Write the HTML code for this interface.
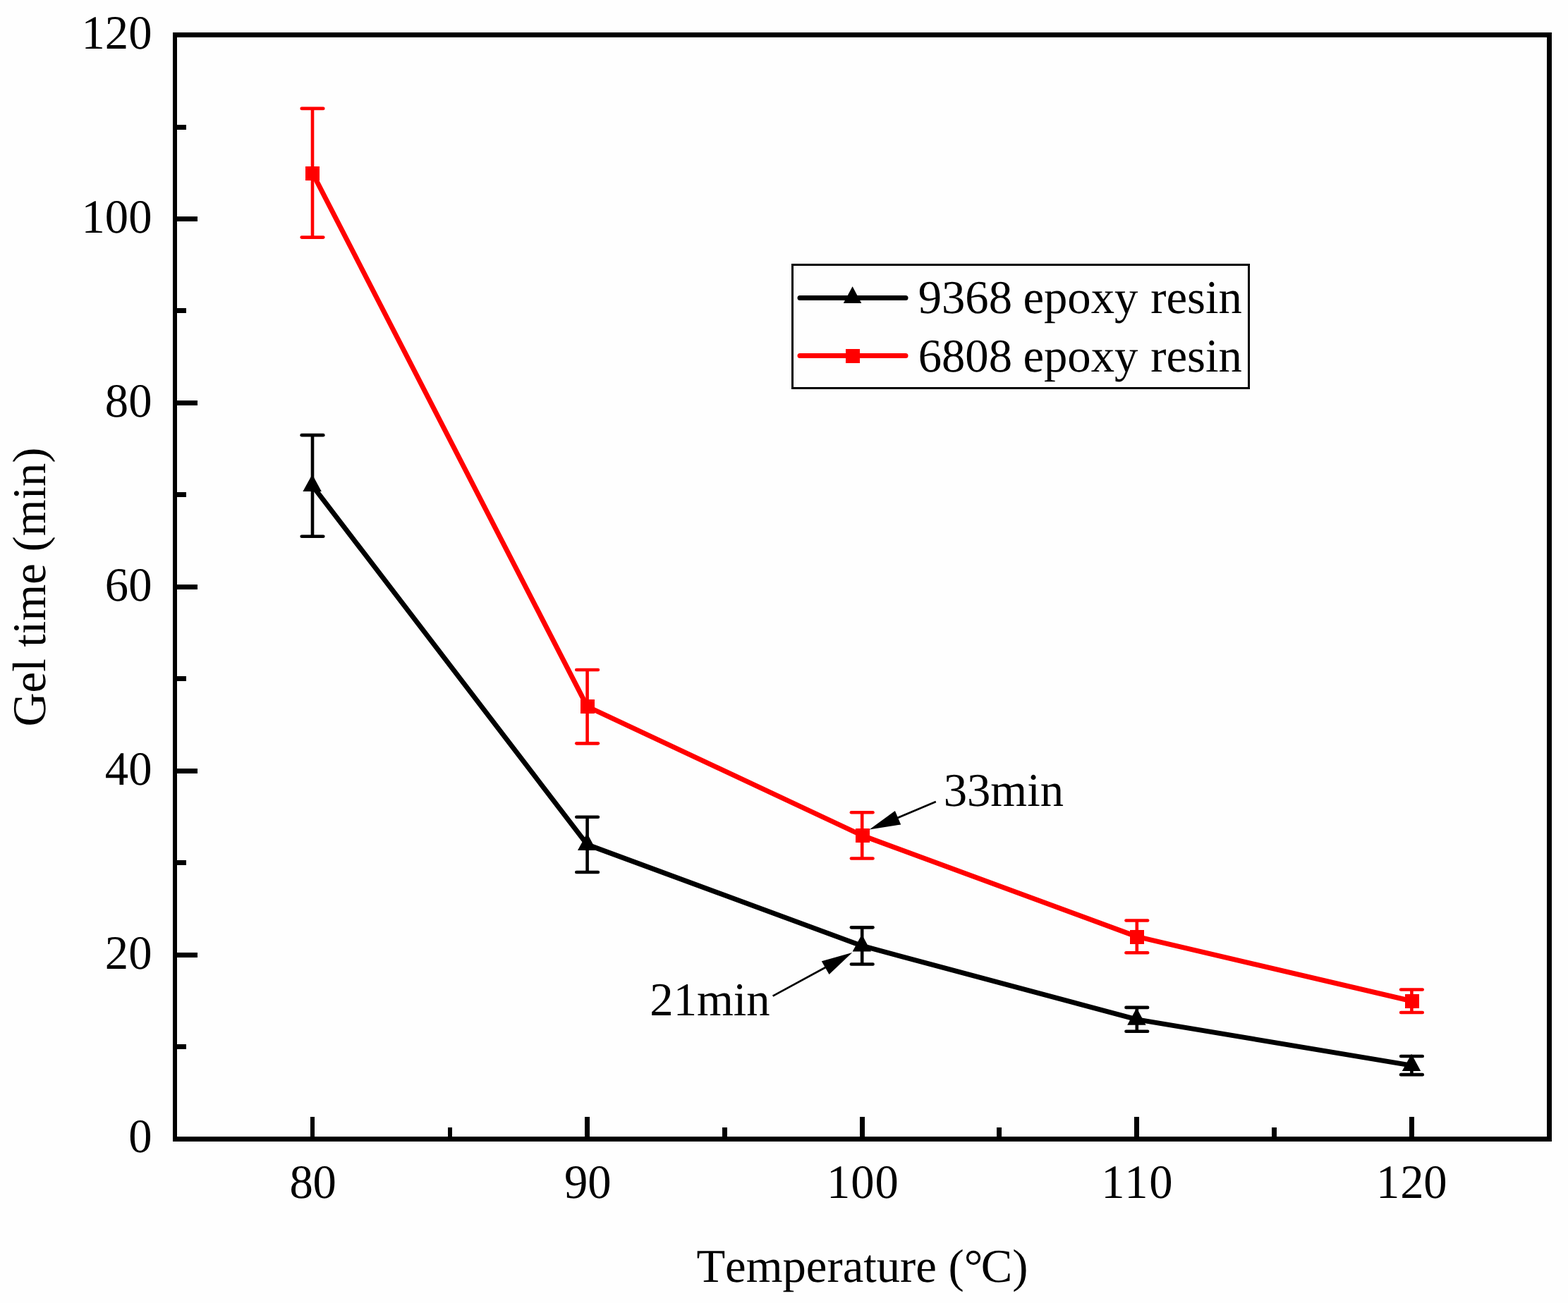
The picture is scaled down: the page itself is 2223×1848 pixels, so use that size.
<!DOCTYPE html>
<html lang="en"><head><meta charset="utf-8"><title>Gel time vs temperature</title>
<style>
html,body{margin:0;padding:0;background:#fefefe;}
body{width:2223px;height:1848px;overflow:hidden;}
svg{display:block;}
text{font-family:"Liberation Serif","Times New Roman",serif;font-size:66.67px;fill:#000;text-rendering:geometricPrecision;font-kerning:none;font-variant-ligatures:none;}
</style></head><body>
<svg width="2223" height="1848" viewBox="0 0 2223 1848">
<rect x="0" y="0" width="2223" height="1848" fill="#fefefe"/>
<g stroke="#000" fill="#000">
<polyline points="443.00,688.95 832.60,1197.90 1222.20,1341.45 1611.80,1445.85 2001.40,1511.10" fill="none" stroke-width="7" stroke-linejoin="round" stroke-linecap="butt"/>
<line x1="443.00" y1="617.17" x2="443.00" y2="760.73" stroke-width="4.6"/>
<line x1="427.70" y1="617.17" x2="458.30" y2="617.17" stroke-width="4.6" stroke-linecap="round"/>
<line x1="427.70" y1="760.73" x2="458.30" y2="760.73" stroke-width="4.6" stroke-linecap="round"/>
<polygon points="442.70,672.65 429.40,696.95 455.80,696.95" stroke="none"/>
<line x1="832.60" y1="1158.75" x2="832.60" y2="1237.05" stroke-width="4.6"/>
<line x1="817.30" y1="1158.75" x2="847.90" y2="1158.75" stroke-width="4.6" stroke-linecap="round"/>
<line x1="817.30" y1="1237.05" x2="847.90" y2="1237.05" stroke-width="4.6" stroke-linecap="round"/>
<polygon points="832.30,1181.60 819.00,1205.90 845.40,1205.90" stroke="none"/>
<line x1="1222.20" y1="1315.35" x2="1222.20" y2="1367.55" stroke-width="4.6"/>
<line x1="1206.90" y1="1315.35" x2="1237.50" y2="1315.35" stroke-width="4.6" stroke-linecap="round"/>
<line x1="1206.90" y1="1367.55" x2="1237.50" y2="1367.55" stroke-width="4.6" stroke-linecap="round"/>
<polygon points="1221.90,1325.15 1208.60,1349.45 1235.00,1349.45" stroke="none"/>
<line x1="1611.80" y1="1428.88" x2="1611.80" y2="1462.82" stroke-width="4.6"/>
<line x1="1596.50" y1="1428.88" x2="1627.10" y2="1428.88" stroke-width="4.6" stroke-linecap="round"/>
<line x1="1596.50" y1="1462.82" x2="1627.10" y2="1462.82" stroke-width="4.6" stroke-linecap="round"/>
<polygon points="1611.50,1429.55 1598.20,1453.85 1624.60,1453.85" stroke="none"/>
<line x1="2001.40" y1="1498.05" x2="2001.40" y2="1524.15" stroke-width="4.6"/>
<line x1="1986.10" y1="1498.05" x2="2016.70" y2="1498.05" stroke-width="4.6" stroke-linecap="round"/>
<line x1="1986.10" y1="1524.15" x2="2016.70" y2="1524.15" stroke-width="4.6" stroke-linecap="round"/>
<polygon points="2001.10,1494.80 1987.80,1519.10 2014.20,1519.10" stroke="none"/>
</g>
<g stroke="#ff0000" fill="#ff0000">
<polyline points="443.00,245.25 832.60,1002.15 1222.20,1184.85 1611.80,1328.40 2001.40,1419.75" fill="none" stroke-width="7" stroke-linejoin="round" stroke-linecap="butt"/>
<line x1="443.00" y1="153.90" x2="443.00" y2="336.60" stroke-width="4.6"/>
<line x1="427.70" y1="153.90" x2="458.30" y2="153.90" stroke-width="4.6" stroke-linecap="round"/>
<line x1="427.70" y1="336.60" x2="458.30" y2="336.60" stroke-width="4.6" stroke-linecap="round"/>
<rect x="433" y="236" width="20" height="20" stroke="none"/>
<line x1="832.60" y1="949.95" x2="832.60" y2="1054.35" stroke-width="4.6"/>
<line x1="817.30" y1="949.95" x2="847.90" y2="949.95" stroke-width="4.6" stroke-linecap="round"/>
<line x1="817.30" y1="1054.35" x2="847.90" y2="1054.35" stroke-width="4.6" stroke-linecap="round"/>
<rect x="823" y="992" width="20" height="20" stroke="none"/>
<line x1="1222.20" y1="1152.22" x2="1222.20" y2="1217.47" stroke-width="4.6"/>
<line x1="1206.90" y1="1152.22" x2="1237.50" y2="1152.22" stroke-width="4.6" stroke-linecap="round"/>
<line x1="1206.90" y1="1217.47" x2="1237.50" y2="1217.47" stroke-width="4.6" stroke-linecap="round"/>
<rect x="1213" y="1175" width="20" height="20" stroke="none"/>
<line x1="1611.80" y1="1305.56" x2="1611.80" y2="1351.24" stroke-width="4.6"/>
<line x1="1596.50" y1="1305.56" x2="1627.10" y2="1305.56" stroke-width="4.6" stroke-linecap="round"/>
<line x1="1596.50" y1="1351.24" x2="1627.10" y2="1351.24" stroke-width="4.6" stroke-linecap="round"/>
<rect x="1602" y="1319" width="20" height="20" stroke="none"/>
<line x1="2001.40" y1="1403.44" x2="2001.40" y2="1436.06" stroke-width="4.6"/>
<line x1="1986.10" y1="1403.44" x2="2016.70" y2="1403.44" stroke-width="4.6" stroke-linecap="round"/>
<line x1="1986.10" y1="1436.06" x2="2016.70" y2="1436.06" stroke-width="4.6" stroke-linecap="round"/>
<rect x="1992" y="1410" width="20" height="20" stroke="none"/>
</g>
<g fill="#000" stroke="none">
<rect x="245" y="46" width="1955" height="7"/>
<rect x="245" y="1612" width="1955" height="7"/>
<rect x="245" y="46" width="6" height="1573"/>
<rect x="2193" y="46" width="7" height="1573"/>
<rect x="248" y="1481" width="16" height="7"/>
<rect x="248" y="1351" width="32" height="7"/>
<rect x="248" y="1220" width="16" height="7"/>
<rect x="248" y="1090" width="32" height="7"/>
<rect x="248" y="959" width="16" height="7"/>
<rect x="248" y="829" width="32" height="7"/>
<rect x="248" y="698" width="16" height="7"/>
<rect x="248" y="568" width="32" height="7"/>
<rect x="248" y="437" width="16" height="7"/>
<rect x="248" y="307" width="32" height="7"/>
<rect x="248" y="177" width="16" height="7"/>
<rect x="440" y="1584" width="6" height="31"/>
<rect x="635" y="1599" width="6" height="16"/>
<rect x="829" y="1584" width="7" height="31"/>
<rect x="1024" y="1599" width="7" height="16"/>
<rect x="1219" y="1584" width="7" height="31"/>
<rect x="1413" y="1599" width="7" height="16"/>
<rect x="1608" y="1584" width="7" height="31"/>
<rect x="1803" y="1599" width="7" height="16"/>
<rect x="1998" y="1584" width="7" height="31"/>
</g>
<g text-anchor="end">
<text x="215.5" y="0" transform="translate(0 1634.1) scale(1 1.018)">0</text>
<text x="215.5" y="0" transform="translate(0 1374.1) scale(1 1.018)">20</text>
<text x="215.5" y="0" transform="translate(0 1113.1) scale(1 1.018)">40</text>
<text x="215.5" y="0" transform="translate(0 852.1) scale(1 1.018)">60</text>
<text x="215.5" y="0" transform="translate(0 591.1) scale(1 1.018)">80</text>
<text x="215.5" y="0" transform="translate(0 330.1) scale(1 1.018)">100</text>
<text x="215.5" y="0" transform="translate(0 69.0) scale(1 1.018)">120</text>
</g>
<text x="410.4 443.5" y="0" transform="translate(0 1699.1) scale(1 1.018)">80</text>
<text x="800 833.2" y="0" transform="translate(0 1699.1) scale(1 1.018)">90</text>
<text x="1172.1 1206.3 1240.5" y="0" transform="translate(0 1699.1) scale(1 1.018)">100</text>
<text x="1561.2 1594.3 1629.2" y="0" transform="translate(0 1699.1) scale(1 1.018)">110</text>
<text x="1951.1 1985.2 2018.3" y="0" transform="translate(0 1699.1) scale(1 1.018)">120</text>
<text x="987.4" y="1818.2">Temperature (°<tspan dx="-2.7">C)</tspan></text>
<text transform="translate(64 832.5) rotate(-90)" text-anchor="middle">Gel time (min)</text>
<rect x="1123.5" y="375.5" width="647" height="175" fill="#fefefe" stroke="#000" stroke-width="3"/>
<line x1="1134" y1="422.5" x2="1284" y2="422.5" stroke="#000" stroke-width="7" stroke-linecap="round"/>
<polygon points="1208.6,406.3 1195.8,430 1221.3,430" fill="#000"/>
<line x1="1134" y1="504.5" x2="1284" y2="504.5" stroke="#ff0000" stroke-width="7" stroke-linecap="round"/>
<rect x="1199" y="495" width="20" height="20" fill="#ff0000"/>
<text y="444.3"><tspan x="1301.7">9368</tspan><tspan x="1433.8"> epoxy</tspan><tspan x="1614.6"> resin</tspan></text>
<text y="527.3"><tspan x="1301.7">6808</tspan><tspan x="1433.8"> epoxy</tspan><tspan x="1614.6"> resin</tspan></text>
<text x="1337.7" y="1143.2">33min</text>
<text x="921.3" y="1440">21min</text>
<g stroke="#000" fill="#000">
<line x1="1326.8" y1="1137" x2="1262" y2="1164.4" stroke-width="2.7"/>
<polygon points="1232.5,1176.6 1268.9,1150 1277.2,1169.4" stroke="none"/>
<line x1="1095.6" y1="1412.6" x2="1180" y2="1366.8" stroke-width="2.7"/>
<polygon points="1208.2,1351.1 1164.8,1363.3 1175.5,1382.1" stroke="none"/>
</g>
</svg></body></html>
